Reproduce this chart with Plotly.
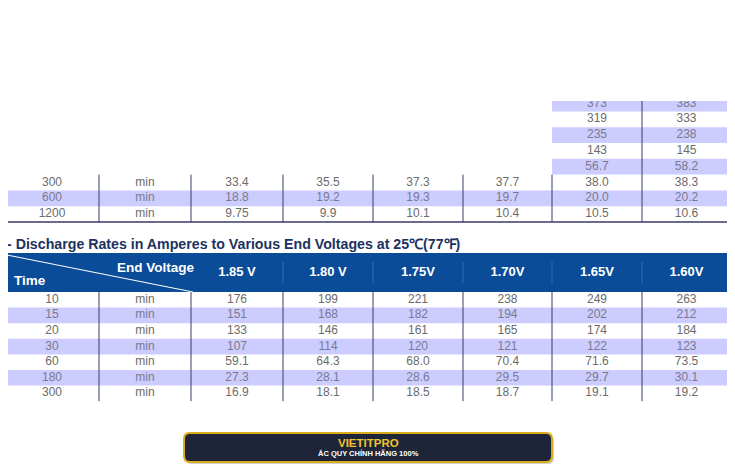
import plotly.graph_objects as go

# ---------------- data ----------------
top_times = ["300", "600", "1200"]
top_rows = [
    ["33.4", "35.5", "37.3", "37.7", "38.0", "38.3"],
    ["18.8", "19.2", "19.3", "19.7", "20.0", "20.2"],
    ["9.75", "9.9", "10.1", "10.4", "10.5", "10.6"],
]
top_partial = [["373", "383"], ["319", "333"], ["235", "238"], ["143", "145"], ["56.7", "58.2"]]

voltages = ["1.85 V", "1.80 V", "1.75V", "1.70V", "1.65V", "1.60V"]
times = ["10", "15", "20", "30", "60", "180", "300"]
amps = [
    ["176", "199", "221", "238", "249", "263"],
    ["151", "168", "182", "194", "202", "212"],
    ["133", "146", "161", "165", "174", "184"],
    ["107", "114", "120", "121", "122", "123"],
    ["59.1", "64.3", "68.0", "70.4", "71.6", "73.5"],
    ["27.3", "28.1", "28.6", "29.5", "29.7", "30.1"],
    ["16.9", "18.1", "18.5", "18.7", "19.1", "19.2"],
]
unit = "min"
title = "- Discharge Rates in Amperes to Various End Voltages at 25℃(77℉)"
banner_title = "VIETITPRO"
banner_sub = "ẮC QUY CHÍNH HÃNG 100%"

# ---------------- layout geometry ----------------
W, H = 735, 468
PAGE_OFF = 8  # browser body margin
FW, FH = W - PAGE_OFF, H - PAGE_OFF
left, right = 5, 731
seps = [99, 191, 283, 373, 463, 552, 642]
edges = [left] + seps + [right]
centers = [(edges[i] + edges[i + 1]) / 2 for i in range(len(edges) - 1)]
centers[0] = 52
centers[1] = 145

LAV = "#ccccff"
LINE = "#3a3a66"
TXT = "#6b6b6b"
TXT_L = "#7a7a8e"
BLUE = "#0b4c99"
FONT = "Liberation Sans Narrow, Arial Narrow, Liberation Sans, Arial, sans-serif"

fig = go.Figure()
shapes = []

# ---- top (clipped) table ----
rh_top = 15.8
top_bottom = 222
n_top = len(top_partial) + len(top_times)
row_tops = [top_bottom - rh_top * (n_top - i) for i in range(n_top)]

tx, ty, tt, tc = [], [], [], []
for i in range(n_top):
    y0 = row_tops[i]
    yc = y0 + rh_top / 2
    lav = (i % 2 == 0)
    if i < len(top_partial):
        if lav:
            shapes.append(dict(type="rect", x0=edges[6], x1=right, y0=y0, y1=y0 + rh_top,
                               fillcolor=LAV, line_width=0, layer="below"))
        for j, v in enumerate(top_partial[i]):
            tx.append(centers[6 + j]); ty.append(yc); tt.append(v); tc.append(TXT_L if lav else TXT)
    else:
        k = i - len(top_partial)
        if lav:
            shapes.append(dict(type="rect", x0=left, x1=right, y0=y0, y1=y0 + rh_top,
                               fillcolor=LAV, line_width=0, layer="below"))
        row = [top_times[k], unit] + top_rows[k]
        for j, v in enumerate(row):
            tx.append(centers[j]); ty.append(yc); tt.append(v); tc.append(TXT_L if lav else TXT)

full_top = row_tops[len(top_partial)]
for j, s in enumerate(seps):
    y_start = 101 if j == 6 else full_top
    shapes.append(dict(type="line", x0=s, x1=s, y0=y_start, y1=top_bottom,
                       line=dict(color=LINE, width=1)))
shapes.append(dict(type="line", x0=left, x1=right, y0=top_bottom, y1=top_bottom,
                   line=dict(color=LINE, width=1.5)))
# white cover (page cut)
shapes.append(dict(type="rect", x0=0, x1=W, y0=0, y1=101, fillcolor="white",
                   line_width=0, layer="above"))

# ---- lower table ----
hdr_top, hdr_bot = 253, 292
rh = 15.6
shapes.append(dict(type="rect", x0=left, x1=right, y0=hdr_top, y1=hdr_bot,
                   fillcolor=BLUE, line_width=0, layer="below"))
shapes.append(dict(type="line", x0=7, y0=255, x1=193, y1=hdr_bot,
                   line=dict(color="white", width=1)))
for s in seps[2:]:
    shapes.append(dict(type="line", x0=s, x1=s, y0=262, y1=283,
                       line=dict(color="rgba(255,255,255,0.18)", width=1)))

for i, t in enumerate(times):
    y0 = hdr_bot + rh * i
    yc = y0 + rh / 2
    lav = (i % 2 == 1)
    if lav:
        shapes.append(dict(type="rect", x0=left, x1=right, y0=y0, y1=y0 + rh,
                           fillcolor=LAV, line_width=0, layer="below"))
    row = [t, unit] + amps[i]
    for j, v in enumerate(row):
        tx.append(centers[j]); ty.append(yc); tt.append(v); tc.append(TXT_L if lav else TXT)

low_bot = hdr_bot + rh * len(times)
for s in seps:
    shapes.append(dict(type="line", x0=s, x1=s, y0=hdr_bot, y1=low_bot,
                       line=dict(color=LINE, width=1)))

fig.add_trace(go.Scatter(x=tx, y=ty, text=tt, mode="text", hoverinfo="skip",
                         textfont=dict(family=FONT, size=12, color=tc)))

# header texts
fig.add_trace(go.Scatter(x=centers[2:], y=[272.5] * len(voltages), text=voltages,
                         mode="text", hoverinfo="skip",
                         textfont=dict(family=FONT, size=13, color="white", weight="bold")))

annotations = [
    dict(x=30, y=280, text="Time", showarrow=False, xref="x", yref="y",
         font=dict(family=FONT, size=13.5, color="white", weight="bold")),
    dict(x=155, y=267, text="End Voltage", showarrow=False, xref="x", yref="y",
         font=dict(family=FONT, size=13.5, color="white", weight="bold")),
    dict(x=(5 - PAGE_OFF) / FW, y=244, text=title, showarrow=False, xref="paper", yref="y",
         xanchor="left",
         font=dict(family=FONT, size=14.2, color="#1c3260", weight="bold")),
    dict(x=368, y=443, text=banner_title, showarrow=False, xref="x", yref="y",
         font=dict(family="Liberation Sans, Arial, sans-serif", size=11.5, color="#f2c230", weight="bold")),
    dict(x=368, y=453.5, text=banner_sub, showarrow=False, xref="x", yref="y",
         font=dict(family="Liberation Sans, Arial, sans-serif", size=7.5, color="white", weight="bold")),
]

# banner (rounded rect)
def rrect(x0, y0, x1, y1, r):
    return (f"M {x0+r},{y0} L {x1-r},{y0} Q {x1},{y0} {x1},{y0+r} L {x1},{y1-r} "
            f"Q {x1},{y1} {x1-r},{y1} L {x0+r},{y1} Q {x0},{y1} {x0},{y1-r} "
            f"L {x0},{y0+r} Q {x0},{y0} {x0+r},{y0} Z")

shapes.append(dict(type="path", path=rrect(186, 435, 554, 464, 6),
                   fillcolor="rgba(0,0,0,0.18)", line_width=0, layer="below"))
shapes.append(dict(type="path", path=rrect(184, 433, 552, 462, 6),
                   fillcolor="#1f2538", line=dict(color="#d9ad1a", width=2), layer="below"))

fig.update_layout(
    width=FW, height=FH, margin=dict(l=0, r=0, t=0, b=0),
    paper_bgcolor="white", plot_bgcolor="white", showlegend=False,
    xaxis=dict(range=[PAGE_OFF, W], visible=False, fixedrange=True),
    yaxis=dict(range=[H, PAGE_OFF], visible=False, fixedrange=True),
    shapes=shapes, annotations=annotations,
)
fig.write_html("out.html")
